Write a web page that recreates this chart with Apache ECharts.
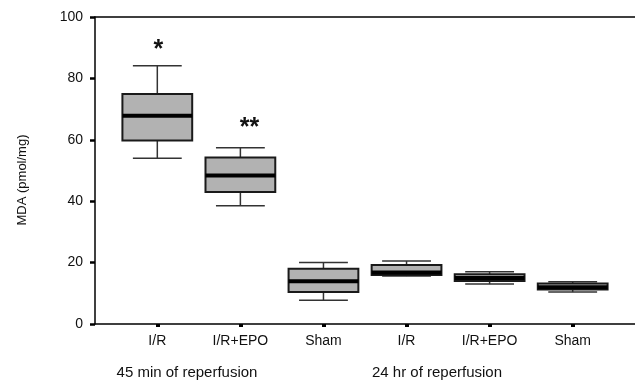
<!DOCTYPE html>
<html>
<head>
<meta charset="utf-8">
<script src="https://cdn.jsdelivr.net/npm/echarts@6/dist/echarts.min.js"></script>
<style>
  html, body { margin: 0; padding: 0; background: #fff; }
  #chart { width: 635px; height: 381px; }
</style>
</head>
<body>
<div id="chart"></div>
<script>
// MDA boxplots
const categories = ['I/R', 'I/R+EPO', 'Sham', 'I/R', 'I/R+EPO', 'Sham']
const whiskerLow = [54.0, 38.5, 7.7, 15.6, 13.0, 10.4]
const quart1 = [59.8, 43.0, 10.4, 16.0, 14.0, 11.2]
const medians = [67.8, 48.4, 13.9, 16.8, 15.0, 12.0]
const quart3 = [74.9, 54.2, 18.0, 19.2, 16.2, 13.2]
const whiskerHigh = [84.1, 57.4, 20.0, 20.5, 17.0, 13.8]
const sigText = ['*', '**', '', '', '', '']
const sigValue = [90.9, 65.4, null, null, null, null]
const yTicks = [0, 20, 40, 60, 80, 100]
const groupLabels = ['45 min of reperfusion', '24 hr of reperfusion']

const font = "'Liberation Sans', Arial, sans-serif"

const boxData = categories.map((c, i) =>
  [i, whiskerLow[i], quart1[i], medians[i], quart3[i], whiskerHigh[i]])
const sigData = categories.map((c, i) => [i, sigValue[i], sigText[i]])
  .filter(d => d[1] != null)

const chart = echarts.init(document.getElementById('chart'))

function renderBox(params, api) {
  const x = api.value(0)
  const lo = api.coord([x, api.value(1)])
  const q1 = api.coord([x, api.value(2)])
  const md = api.coord([x, api.value(3)])
  const q3 = api.coord([x, api.value(4)])
  const hi = api.coord([x, api.value(5)])
  const bw = api.size([0.84, 0])[0]
  const ww = bw * 0.7
  const cx = md[0]
  const lineStyle = { stroke: '#333', lineWidth: 1.5 }
  return {
    type: 'group',
    children: [
      { type: 'line', shape: { x1: cx, y1: hi[1], x2: cx, y2: q3[1] }, style: lineStyle },
      { type: 'line', shape: { x1: cx, y1: q1[1], x2: cx, y2: lo[1] }, style: lineStyle },
      { type: 'line', shape: { x1: cx - ww / 2, y1: hi[1], x2: cx + ww / 2, y2: hi[1] }, style: lineStyle },
      { type: 'line', shape: { x1: cx - ww / 2, y1: lo[1], x2: cx + ww / 2, y2: lo[1] }, style: lineStyle },
      {
        type: 'rect',
        shape: { x: cx - bw / 2, y: q3[1], width: bw, height: q1[1] - q3[1] },
        style: { fill: '#b2b2b2', stroke: '#1a1a1a', lineWidth: 2 }
      },
      { type: 'line', shape: { x1: cx - bw / 2, y1: md[1], x2: cx + bw / 2, y2: md[1] },
        style: { stroke: '#000', lineWidth: 4 } }
    ]
  }
}

function renderSig(params, api) {
  const p = api.coord([api.value(0), api.value(1)])
  const txt = sigText[api.value(0)]
  return {
    type: 'text',
    x: p[0] + (txt.length > 1 ? 9 : 1),
    y: p[1] + 5,
    style: {
      text: txt, fill: '#111', font: 'bold 25px ' + font,
      align: 'center', verticalAlign: 'middle'
    }
  }
}

const options = {
  animation: false,
  backgroundColor: '#fff',
  grid: { left: 95, right: 0, top: 17, bottom: 57 },
  xAxis: [{
    type: 'value',
    min: -0.75,
    max: 5.75,
    splitLine: { show: false },
    axisLine: { show: true, onZero: false, lineStyle: { color: '#000', width: 1.5 } },
    axisTick: { show: true, customValues: [0, 1, 2, 3, 4, 5], length: 3, lineStyle: { color: '#000', width: 4 } },
    axisLabel: {
      customValues: [0, 1, 2, 3, 4, 5],
      formatter: v => categories[Math.round(v)],
      color: '#111', fontSize: 14, fontFamily: font, margin: 10
    }
  }, {
    type: 'value',
    position: 'top',
    min: -0.75,
    max: 5.75,
    splitLine: { show: false },
    axisLine: { show: true, onZero: false, lineStyle: { color: '#000', width: 1.5 } },
    axisTick: { show: false },
    axisLabel: { show: false }
  }],
  yAxis: {
    type: 'value',
    min: 0,
    max: 100,
    interval: 20,
    splitLine: { show: false },
    axisLine: { show: true, onZero: false, lineStyle: { color: '#000', width: 1.5 } },
    axisTick: { show: true, length: 5, lineStyle: { color: '#000', width: 2.5 } },
    axisLabel: {
      color: '#111', fontSize: 14, fontFamily: font, margin: 12,
      formatter: v => yTicks.includes(v) ? String(v) : ''
    }
  },
  graphic: [
    {
      type: 'text', x: 22, y: 180, rotation: Math.PI / 2,
      style: { text: 'MDA (pmol/mg)', font: '13px ' + font, fill: '#111', align: 'center', verticalAlign: 'middle' }
    },
    {
      type: 'text', x: 187, y: 373,
      style: { text: groupLabels[0], font: '15px ' + font, fill: '#111', align: 'center', verticalAlign: 'middle' }
    },
    {
      type: 'text', x: 437, y: 373,
      style: { text: groupLabels[1], font: '15px ' + font, fill: '#111', align: 'center', verticalAlign: 'middle' }
    }
  ],
  series: [
    { type: 'custom', renderItem: renderBox, data: boxData, z: 3 },
    { type: 'custom', renderItem: renderSig, data: sigData, z: 4 }
  ]
}

chart.setOption(options)
</script>
</body>
</html>
